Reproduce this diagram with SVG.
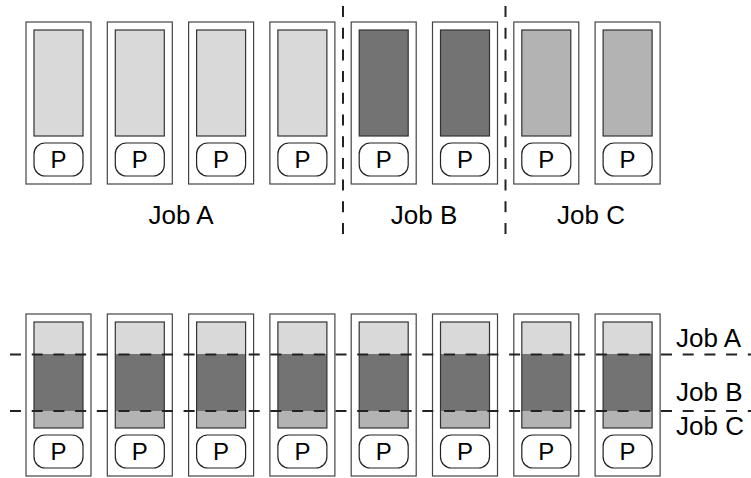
<svg xmlns="http://www.w3.org/2000/svg" width="751" height="478" viewBox="0 0 751 478">
<style>
.outer{fill:#fff;stroke:#444;stroke-width:1.2}
.inner{stroke:#333;stroke-width:1.2}
.pbox{fill:#fff;stroke:#222;stroke-width:1.2}
.pt{font-family:"Liberation Sans",Arial,sans-serif;font-size:24px;fill:#000;text-anchor:middle}
.lbl{font-family:"Liberation Sans",Arial,sans-serif;font-size:26px;fill:#000}
.dash{stroke:#222;stroke-width:2;stroke-dasharray:11 10.7;fill:none}
.a{fill:#d9d9d9}.b{fill:#737373}.c{fill:#b3b3b3}
</style>
<defs>
<g id="pcell">
<rect class="pbox" x="8" y="121" width="49" height="33" rx="11"/>
<text class="pt" x="32.5" y="146">P</text>
</g>
</defs>
<g id="top-row">
<g id="t1" transform="translate(26,22)"><rect class="outer" x="0" y="0" width="65" height="162"/><rect class="inner a" x="8" y="8" width="49" height="106"/><use href="#pcell"/></g>
<g id="t2" transform="translate(107.3,22)"><rect class="outer" x="0" y="0" width="65" height="162"/><rect class="inner a" x="8" y="8" width="49" height="106"/><use href="#pcell"/></g>
<g id="t3" transform="translate(188.6,22)"><rect class="outer" x="0" y="0" width="65" height="162"/><rect class="inner a" x="8" y="8" width="49" height="106"/><use href="#pcell"/></g>
<g id="t4" transform="translate(269.9,22)"><rect class="outer" x="0" y="0" width="65" height="162"/><rect class="inner a" x="8" y="8" width="49" height="106"/><use href="#pcell"/></g>
<g id="t5" transform="translate(351.2,22)"><rect class="outer" x="0" y="0" width="65" height="162"/><rect class="inner b" x="8" y="8" width="49" height="106"/><use href="#pcell"/></g>
<g id="t6" transform="translate(432.5,22)"><rect class="outer" x="0" y="0" width="65" height="162"/><rect class="inner b" x="8" y="8" width="49" height="106"/><use href="#pcell"/></g>
<g id="t7" transform="translate(513.8,22)"><rect class="outer" x="0" y="0" width="65" height="162"/><rect class="inner c" x="8" y="8" width="49" height="106"/><use href="#pcell"/></g>
<g id="t8" transform="translate(595.1,22)"><rect class="outer" x="0" y="0" width="65" height="162"/><rect class="inner c" x="8" y="8" width="49" height="106"/><use href="#pcell"/></g>
</g>
<defs>
<g id="bnode">
<rect class="outer" x="0" y="0" width="65" height="162"/>
<rect class="a" x="8" y="8" width="49" height="32"/>
<rect class="b" x="8" y="40" width="49" height="57"/>
<rect class="c" x="8" y="97" width="49" height="17"/>
<rect class="inner" fill="none" x="8" y="8" width="49" height="106"/>
<use href="#pcell"/>
</g>
</defs>
<g id="bottom-row">
<g id="b1" transform="translate(26,314)"><use href="#bnode"/></g>
<g id="b2" transform="translate(107.3,314)"><use href="#bnode"/></g>
<g id="b3" transform="translate(188.6,314)"><use href="#bnode"/></g>
<g id="b4" transform="translate(269.9,314)"><use href="#bnode"/></g>
<g id="b5" transform="translate(351.2,314)"><use href="#bnode"/></g>
<g id="b6" transform="translate(432.5,314)"><use href="#bnode"/></g>
<g id="b7" transform="translate(513.8,314)"><use href="#bnode"/></g>
<g id="b8" transform="translate(595.1,314)"><use href="#bnode"/></g>
</g>
<g id="connectors">
<line class="dash" x1="343" y1="6" x2="343" y2="234"/>
<line class="dash" x1="505.5" y1="6" x2="505.5" y2="234"/>
<line class="dash" x1="10" y1="354.5" x2="751" y2="354.5"/>
<line class="dash" x1="10" y1="411" x2="751" y2="411"/>
</g>
<g id="labels">
<text class="lbl" x="181" y="224" text-anchor="middle">Job A</text>
<text class="lbl" x="424" y="224" text-anchor="middle">Job B</text>
<text class="lbl" x="591" y="224" text-anchor="middle">Job C</text>
<text class="lbl" x="676" y="347">Job A</text>
<text class="lbl" x="676" y="401">Job B</text>
<text class="lbl" x="676" y="435">Job C</text>
</g>
</svg>
